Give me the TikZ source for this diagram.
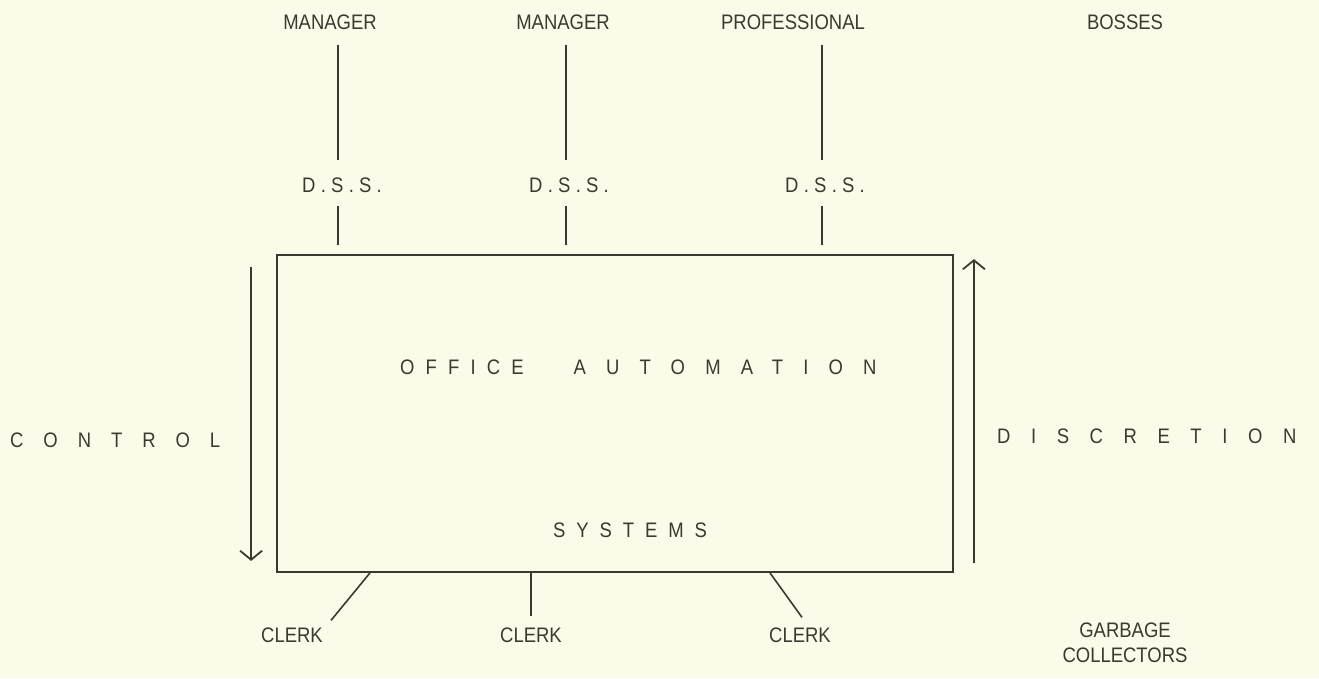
\documentclass[tikz,border=0pt]{standalone}
\usepackage{fontspec}
\setmainfont{Liberation Sans}[FakeStretch=0.88]
\usetikzlibrary{arrows.meta}
\definecolor{paper}{RGB}{252,250,232}
\definecolor{ink}{RGB}{58,58,48}
\newcommand{\wide}[2]{{\addfontfeatures{LetterSpace=#1}#2}}

\begin{document}
\begin{tikzpicture}[x=1pt, y=-1pt, font=\fontsize{21}{25}\selectfont, text=ink,
  lbl/.style={inner sep=0pt},
  wire/.style={draw=ink, line width=1.6pt},
  flow/.style={draw=ink, line width=1.8pt, -{Straight Barb[length=9pt, width=22pt, line width=1.8pt]}}]
  \useasboundingbox[fill=paper] (0,0) rectangle (1319,678);
  % the box
  \node[draw=ink, line width=1.8pt, minimum width=676pt, minimum height=317pt, inner sep=0pt] (oa) at (615,413.5) {};
  \node[lbl, anchor=west] (oat) at (400,367) {\wide{53}{OFFICE}\hspace{50pt}\wide{96}{AUTOMATION}};
  \node[lbl, anchor=west] (sys) at (553,530) {\wide{52}{SYSTEMS}};
  % top row
  \node[lbl] (m1) at (330,22) {MANAGER};
  \node[lbl] (m2) at (563,22) {MANAGER};
  \node[lbl] (pro) at (793,22) {PROFESSIONAL};
  \node[lbl] (boss) at (1125,22) {BOSSES};
  \node[lbl, anchor=west] (d1) at (302,185) {\wide{25}{D.S.S.}};
  \node[lbl, anchor=west] (d2) at (529,185) {\wide{25}{D.S.S.}};
  \node[lbl, anchor=west] (d3) at (785,185) {\wide{25}{D.S.S.}};
  \foreach \d/\m/\dx in {d1/m1/8, d2/m2/3, d3/pro/29} {
    \draw[wire, shorten <=15pt, shorten >=17pt] ([xshift=\dx pt]\m.south) -- ([xshift=\dx pt]\m.south |- \d.north);
    \draw[wire, shorten <=13pt, shorten >=9pt] ([xshift=\dx pt]\m.south |- \d.south) -- ([xshift=\dx pt]\m.south |- oa.north);
  }
  % bottom row
  \node[lbl] (c1) at (292,635) {CLERK};
  \node[lbl] (c2) at (531,635) {CLERK};
  \node[lbl] (c3) at (800,635) {CLERK};
  \node[lbl, align=center] (gc) at (1125,643) {GARBAGE\\COLLECTORS};
  \draw[wire] ([xshift=-245pt]oa.south) -- ([xshift=39pt, yshift=7pt]c1.north);
  \draw[wire] ([xshift=-84pt]oa.south) -- ([yshift=11pt]c2.north);
  \draw[wire] ([xshift=155pt]oa.south) -- ([xshift=2pt, yshift=10pt]c3.north);
  % sides
  \node[lbl, anchor=west] (ctl) at (10,440) {\wide{95}{CONTROL}};
  \node[lbl, anchor=west] (dis) at (997,436) {\wide{98}{DISCRETION}};
  \draw[flow] ([xshift=-25pt, yshift=-13pt]oa.north west) -- ([xshift=-25pt, yshift=12pt]oa.south west);
  \draw[flow] ([xshift=20pt, yshift=10pt]oa.south east) -- ([xshift=20pt, yshift=-5pt]oa.north east);
\end{tikzpicture}
\end{document}
